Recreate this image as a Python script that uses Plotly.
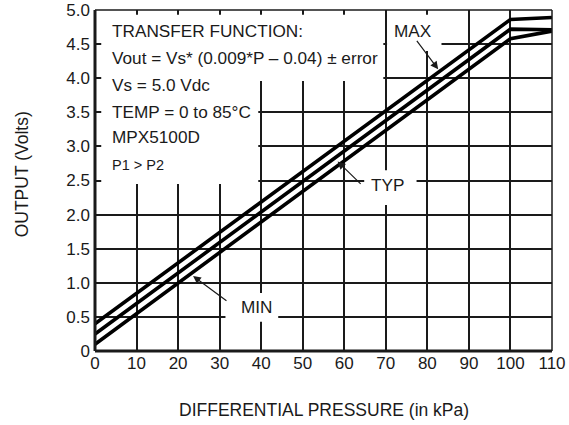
import plotly.graph_objects as go

# Data
pressure_kpa = [0, 100, 110]
out_max = [0.40, 4.86, 4.89]
out_typ = [0.25, 4.72, 4.71]
out_min = [0.10, 4.58, 4.69]

x_ticks = [0, 10, 20, 30, 40, 50, 60, 70, 80, 90, 100, 110]
y_ticks = [0, 0.5, 1.0, 1.5, 2.0, 2.5, 3.0, 3.5, 4.0, 4.5, 5.0]
y_tick_text = ["0", "0.5", "1.0", "1.5", "2.0", "2.5", "3.0", "3.5", "4.0", "4.5", "5.0"]

info_lines = [
    "TRANSFER FUNCTION:",
    "Vout = Vs* (0.009*P \u2013 0.04) \u00b1 error",
    "Vs = 5.0 Vdc",
    "TEMP = 0 to 85\u00b0C",
    "MPX5100D",
]
info_small = "P1 > P2"

FONT = "Liberation Sans, Arial, sans-serif"
INK = "#1a1a1a"

fig = go.Figure()
for ys in (out_max, out_typ, out_min):
    fig.add_trace(go.Scatter(x=pressure_kpa, y=ys, mode="lines",
                             line=dict(color="black", width=3.6),
                             showlegend=False, hoverinfo="skip"))

# white areas that hide the grid behind the labels
white_boxes = [
    (1.5, 69.4, 3.96, 4.93),
    (1.5, 39.3, 2.45, 3.96),
    (70.3, 83.4, 4.40, 4.93),
    (64.8, 77.4, 2.14, 2.65),
    (31.4, 44.1, 0.43, 0.85),
]
for x0, x1, y0, y1 in white_boxes:
    fig.add_shape(type="rect", x0=x0, x1=x1, y0=y0, y1=y1, xref="x", yref="y",
                  fillcolor="white", line=dict(width=0), layer="between")

# info text
row_y = [4.69, 4.30, 3.90, 3.50, 3.14]
for txt, yy in zip(info_lines, row_y):
    fig.add_annotation(x=3.6, y=yy, text=txt, showarrow=False, xanchor="left",
                       yanchor="middle", font=dict(family=FONT, size=17.2, color=INK))
fig.add_annotation(x=3.6, y=2.73, text=info_small, showarrow=False, xanchor="left",
                   yanchor="middle", font=dict(family=FONT, size=14.5, color=INK))

# labels
labels = [("MAX", 76.6, 4.69), ("TYP", 70.3, 2.43), ("MIN", 39.0, 0.64)]
for txt, xx, yy in labels:
    fig.add_annotation(x=xx, y=yy, text=txt, showarrow=False, xanchor="center",
                       yanchor="middle", font=dict(family=FONT, size=17.2, color=INK))

arrows = [((77.2, 4.57), (82.6, 4.13)),
          ((64.3, 2.43), (58.4, 2.78)),
          ((32.0, 0.72), (23.6, 1.10))]
for (tx, ty), (hx, hy) in arrows:
    fig.add_annotation(x=hx, y=hy, ax=tx, ay=ty, axref="x", ayref="y", text="",
                       showarrow=True, arrowhead=2, arrowsize=1.3, arrowwidth=1.2,
                       arrowcolor=INK)

# axis titles
fig.add_annotation(xref="paper", yref="paper", x=0.5, y=-0.174, text="DIFFERENTIAL PRESSURE (in kPa)",
                   showarrow=False, xanchor="center", yanchor="middle",
                   font=dict(family=FONT, size=17.5, color=INK))
fig.add_annotation(xref="paper", yref="paper", x=-0.159, y=0.519, text="OUTPUT (Volts)",
                   textangle=-90, showarrow=False, xanchor="center", yanchor="middle",
                   font=dict(family=FONT, size=17.5, color=INK))

fig.update_xaxes(range=[0, 110], tickvals=x_ticks, ticktext=[str(v) for v in x_ticks],
                 showgrid=True, gridcolor=INK, gridwidth=1.5, zeroline=False,
                 showline=False, ticks="", automargin=False, ticklabeloverflow="allow",
                 tickfont=dict(family=FONT, size=17, color=INK))
fig.update_yaxes(range=[0, 5], tickvals=y_ticks, ticktext=y_tick_text,
                 showgrid=True, gridcolor=INK, gridwidth=1.5, zeroline=False,
                 showline=False, ticks="", ticklabelstandoff=4, automargin=False,
                 ticklabeloverflow="allow",
                 tickfont=dict(family=FONT, size=17, color=INK))

# frame: thick left/bottom, thin top/right
fig.add_shape(type="line", xref="paper", yref="paper", x0=0, x1=0, y0=0, y1=1,
              line=dict(color=INK, width=3), layer="above")
fig.add_shape(type="line", xref="paper", yref="paper", x0=0, x1=1, y0=0, y1=0,
              line=dict(color=INK, width=3), layer="above")
fig.add_shape(type="line", xref="paper", yref="paper", x0=0, x1=1, y0=1, y1=1,
              line=dict(color=INK, width=1.5), layer="above")
fig.add_shape(type="line", xref="paper", yref="paper", x0=1, x1=1, y0=0, y1=1,
              line=dict(color=INK, width=1.5), layer="above")

fig.update_layout(width=569, height=425, margin=dict(l=95, r=17, t=10, b=74),
                  plot_bgcolor="white", paper_bgcolor="white",
                  font=dict(family=FONT, color=INK))
# remove the browser's default body margin so the figure sits at the page origin
fig.write_html("out.html", config={"displayModeBar": False},
               post_script="document.body.style.margin='0';")
